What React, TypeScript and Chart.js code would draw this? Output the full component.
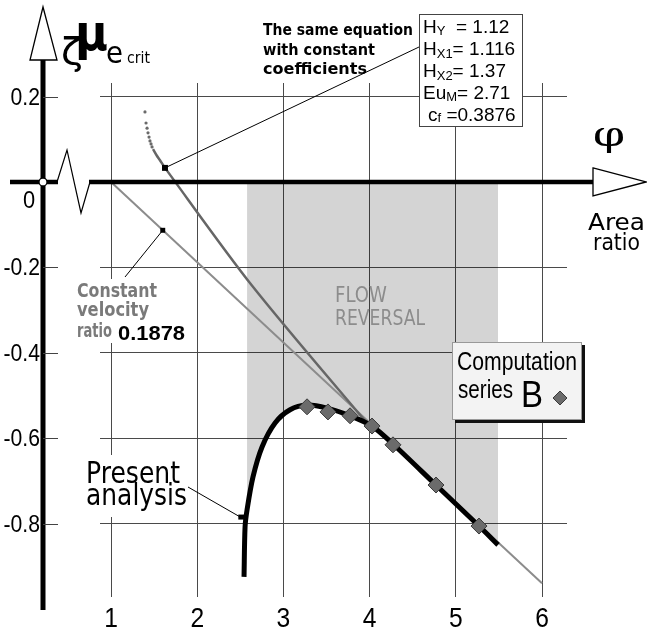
import { useEffect, useRef } from 'react';
import { Chart, registerables } from 'chart.js';

Chart.register(...registerables);

const W = 647;
const H = 630;

// Axis ranges (area ratio φ, critical coefficient ζμe crit)
const phiRange = [0.872, 6.29];
const muRange = [-0.971, 0.2316];

// Tick values and labels
const phiTicks = [1, 2, 3, 4, 5, 6];
const muTicks = [0.2, 0, -0.2, -0.4, -0.6, -0.8];
const muTickLabels = ['0.2', '0', '-0.2', '-0.4', '-0.6', '-0.8'];

// Present analysis (thick black curve)
const presentPhi = [2.543, 2.555, 2.578, 2.647, 2.752, 2.903, 3.077, 3.274, 3.506, 3.773, 4.028, 4.271, 4.77, 5.269, 5.49];
const presentMu = [-0.924, -0.807, -0.767, -0.69, -0.62, -0.564, -0.533, -0.522, -0.529, -0.547, -0.571, -0.613, -0.709, -0.805, -0.849];

// Computation series B (diamonds)
const seriesBPhi = [3.274, 3.517, 3.773, 4.028, 4.271, 4.77, 5.269];
const seriesBMu = [-0.526, -0.538, -0.547, -0.571, -0.615, -0.709, -0.805];

// Constant velocity ratio 0.1878 line
const constVelPhi = [1, 6];
const constVelMu = [0, -0.939];
const constVelMarkPhi = [1.6];
const constVelMarkMu = [-0.113];

// Same equation with constant coefficients: dotted start, then solid
const sameEqDotPhi = [1.394, 1.406, 1.418, 1.429, 1.441, 1.452, 1.464, 1.476];
const sameEqDotMu = [0.164, 0.138, 0.126, 0.115, 0.105, 0.096, 0.089, 0.082];
const sameEqPhi = [1.487, 1.53, 1.568, 1.626, 2.63, 4.005];
const sameEqMu = [0.077, 0.062, 0.051, 0.033, -0.241, -0.573];
const sameEqMarkPhi = [1.626];
const sameEqMarkMu = [0.033];

// Flow reversal band
const flowReversal = [2.57, 5.5];

// Leader anchor on the present-analysis curve
const presentMarkPhi = 2.5;
const presentMarkMu = -0.784;

const pts = (xs: number[], ys: number[]) => xs.map((x, i) => ({ x, y: ys[i] }));

type Align = 'left' | 'right' | 'center';
function fit(
  ctx: CanvasRenderingContext2D,
  s: string,
  x: number,
  y: number,
  font: string,
  color: string,
  opts: { w?: number; sx?: number; align?: Align } = {}
) {
  ctx.save();
  ctx.font = font;
  ctx.fillStyle = color;
  ctx.textBaseline = 'alphabetic';
  ctx.textAlign = 'left';
  const natural = ctx.measureText(s).width;
  const w = opts.w ?? natural * (opts.sx ?? 1);
  const align = opts.align ?? 'left';
  const left = align === 'left' ? x : align === 'right' ? x - w : x - w / 2;
  ctx.translate(left, y);
  ctx.scale(w / natural, 1);
  ctx.fillText(s, 0, 0);
  ctx.restore();
  return w;
}

function rich(
  ctx: CanvasRenderingContext2D,
  parts: [string, string, number][],
  x: number,
  y: number,
  sx: number
) {
  let cx = x;
  for (const [s, font, dy] of parts) {
    cx += fit(ctx, s, cx, y + dy, font, '#000', { sx });
  }
}

function line(ctx: CanvasRenderingContext2D, x1: number, y1: number, x2: number, y2: number) {
  ctx.beginPath();
  ctx.moveTo(x1, y1);
  ctx.lineTo(x2, y2);
  ctx.stroke();
}

function diamond(ctx: CanvasRenderingContext2D, x: number, y: number, r: number) {
  ctx.beginPath();
  ctx.moveTo(x - r, y);
  ctx.lineTo(x, y - r);
  ctx.lineTo(x + r, y);
  ctx.lineTo(x, y + r);
  ctx.closePath();
  ctx.fillStyle = '#6b6b6b';
  ctx.fill();
  ctx.strokeStyle = '#3a3a3a';
  ctx.lineWidth = 1;
  ctx.stroke();
}

const SANS = '"DejaVu Sans", sans-serif';
const HELV = '"Liberation Sans", Arial, sans-serif';

const decorations = {
  id: 'decorations',
  afterDraw(chart: any) {
    const ctx: CanvasRenderingContext2D = chart.ctx;
    const xs = chart.scales.x;
    const ys = chart.scales.y;
    const X = (v: number) => xs.getPixelForValue(v);
    const Y = (v: number) => ys.getPixelForValue(v);
    const y0 = Y(0);
    const axisX = 43;

    ctx.save();

    // white backing behind labels that sit on grid lines
    ctx.fillStyle = '#fff';
    ctx.fillRect(82, 455, 108, 62);
    ctx.fillRect(75, 279, 113, 64);

    // leader lines
    ctx.strokeStyle = '#000';
    ctx.lineWidth = 1;
    line(ctx, X(sameEqMarkPhi[0]), Y(sameEqMarkMu[0]), 419, 47);
    line(ctx, X(constVelMarkPhi[0]), Y(constVelMarkMu[0]), 125, 277);
    line(ctx, 188, 487, X(presentMarkPhi), Y(presentMarkMu));
    ctx.fillStyle = '#000';
    ctx.fillRect(X(presentMarkPhi) - 2, Y(presentMarkMu) - 2.5, 9, 5);

    // y axis shaft and ticks
    ctx.strokeStyle = '#000';
    ctx.lineWidth = 5;
    line(ctx, axisX, 58, axisX, 610);
    ctx.lineWidth = 1;
    ctx.strokeStyle = '#444';
    muTicks.forEach((v) => {
      if (v !== 0) line(ctx, axisX, Math.round(Y(v)) + 0.5, 58, Math.round(Y(v)) + 0.5);
    });

    // x axis shaft with break
    ctx.strokeStyle = '#000';
    ctx.lineWidth = 4.5;
    line(ctx, 10, y0, 58, y0);
    line(ctx, 89, y0, 595, y0);
    ctx.lineWidth = 1.2;
    ctx.beginPath();
    ctx.moveTo(57, y0);
    ctx.lineTo(67, y0 - 32);
    ctx.lineTo(81, y0 + 31);
    ctx.lineTo(90, y0);
    ctx.stroke();

    // arrow heads
    ctx.lineWidth = 1.3;
    ctx.fillStyle = '#fff';
    ctx.beginPath();
    ctx.moveTo(axisX, 7);
    ctx.lineTo(30, 60);
    ctx.lineTo(57, 60);
    ctx.closePath();
    ctx.fill();
    ctx.stroke();
    ctx.beginPath();
    ctx.moveTo(593, y0 - 14);
    ctx.lineTo(646, y0);
    ctx.lineTo(593, y0 + 14);
    ctx.closePath();
    ctx.fill();
    ctx.stroke();

    // origin ring
    ctx.beginPath();
    ctx.arc(axisX, y0, 4, 0, Math.PI * 2);
    ctx.fill();
    ctx.stroke();

    // tick labels
    muTicks.forEach((v, i) => {
      if (v === 0) {
        fit(ctx, muTickLabels[i], 29, y0 + 26, `23px ${HELV}`, '#000', { align: 'center', sx: 0.95 });
      } else {
        fit(ctx, muTickLabels[i], 40, Y(v) + 8, `23px ${HELV}`, '#000', { align: 'right', sx: 0.92 });
      }
    });
    phiTicks.forEach((v) => {
      fit(ctx, String(v), X(v), 627, `28px ${HELV}`, '#000', { align: 'center', sx: 0.88 });
    });

    // axis titles
    fit(ctx, 'ζ', 61, 64, `38px ${SANS}`, '#000', { w: 22 });
    fit(ctx, 'μ', 75, 50, `bold 50px ${SANS}`, '#000', { w: 33 });
    fit(ctx, 'e', 106, 63, `30px ${SANS}`, '#000', { w: 17 });
    fit(ctx, 'crit', 127, 63, `16px ${SANS}`, '#000', { w: 23 });
    fit(ctx, 'φ', 593, 146, `34px "DejaVu Serif", serif`, '#000', { w: 32 });
    fit(ctx, 'Area', 588, 230, `23px ${SANS}`, '#000', { w: 57 });
    fit(ctx, 'ratio', 593, 250, `23px ${SANS}`, '#000', { w: 47 });

    // flow reversal caption
    fit(ctx, 'FLOW', 335, 302, `21px ${SANS}`, '#8c8c8c', { w: 52 });
    fit(ctx, 'REVERSAL', 335, 325, `21px ${SANS}`, '#8c8c8c', { w: 90 });

    // present analysis caption
    fit(ctx, 'Present', 86, 483, `30px ${SANS}`, '#000', { w: 94 });
    fit(ctx, 'analysis', 86, 505, `30px ${SANS}`, '#000', { w: 101 });

    // constant velocity caption
    fit(ctx, 'Constant', 77, 297, `bold 19px ${SANS}`, '#7a7a7a', { w: 80 });
    fit(ctx, 'velocity', 77, 316, `bold 19px ${SANS}`, '#7a7a7a', { w: 72 });
    fit(ctx, 'ratio', 77, 337, `bold 19px ${SANS}`, '#7a7a7a', { w: 35 });
    fit(ctx, '0.1878', 118, 340, `bold 21px ${HELV}`, '#000', { w: 67 });

    // same equation caption
    fit(ctx, 'The same equation', 263, 35, `bold 16px ${SANS}`, '#000', { w: 150 });
    fit(ctx, 'with constant', 263, 55, `bold 16px ${SANS}`, '#000', { w: 112 });
    fit(ctx, 'coefficients', 263, 74, `bold 16px ${SANS}`, '#000', { w: 104 });

    // coefficient box
    ctx.fillStyle = '#fff';
    ctx.fillRect(419, 14, 103, 112);
    ctx.strokeStyle = '#444';
    ctx.lineWidth = 1;
    ctx.strokeRect(419.5, 14.5, 103, 112);
    const big = `19px ${HELV}`;
    const sub = `13px ${HELV}`;
    rich(ctx, [['H', big, 0], ['Y', sub, 2], ['  = 1.12', big, 0]], 423, 33, 1);
    rich(ctx, [['H', big, 0], ['X1', sub, 3], ['= 1.116', big, 0]], 423, 55, 1);
    rich(ctx, [['H', big, 0], ['X2', sub, 3], ['= 1.37', big, 0]], 423, 77, 1);
    rich(ctx, [['Eu', big, 0], ['M', sub, 2], ['= 2.71', big, 0]], 423, 99, 1);
    rich(ctx, [['c', big, 0], ['f', sub, 1], [' =0.3876', big, 0]], 428, 121, 1);

    // series legend box
    ctx.fillStyle = '#111';
    ctx.fillRect(455, 345, 130, 78);
    ctx.fillStyle = '#f3f3f3';
    ctx.fillRect(452, 342, 130, 78);
    ctx.strokeStyle = '#999';
    ctx.strokeRect(452.5, 342.5, 129, 77);
    fit(ctx, 'Computation', 457, 370, `25px ${HELV}`, '#000', { w: 120 });
    fit(ctx, 'series', 458, 398, `25px ${HELV}`, '#000', { w: 55 });
    fit(ctx, 'B', 521, 407, `36px ${HELV}`, '#000', { w: 22 });
    diamond(ctx, 560, 398, 7);

    ctx.restore();
  },
};

export default function App() {
  const ref = useRef<HTMLCanvasElement>(null);

  useEffect(() => {
    document.body.style.margin = '0';
    const presentPts = pts(presentPhi, presentMu);
    const shadePts = presentPts.filter((p) => p.x >= flowReversal[0] && p.x <= flowReversal[1]);

    const chart = new Chart(ref.current!, {
      type: 'scatter',
      data: {
        datasets: [
          {
            label: 'flow reversal',
            data: shadePts,
            showLine: true,
            borderWidth: 0,
            pointRadius: 0,
            tension: 0.3,
            backgroundColor: 'rgba(0,0,0,0.17)',
            fill: { value: 0 },
            order: 10,
          },
          {
            label: 'constant velocity ratio',
            data: pts(constVelPhi, constVelMu),
            showLine: true,
            borderColor: '#8c8c8c',
            borderWidth: 2,
            pointRadius: 0,
            order: 6,
          },
          {
            label: 'same equation dots',
            data: pts(sameEqDotPhi, sameEqDotMu),
            showLine: false,
            pointRadius: 1.6,
            pointBackgroundColor: '#6a6a6a',
            pointBorderWidth: 0,
            order: 5,
          },
          {
            label: 'same equation',
            data: pts(sameEqPhi, sameEqMu),
            showLine: true,
            borderColor: '#666',
            borderWidth: 2.5,
            tension: 0.3,
            pointRadius: 0,
            order: 5,
          },
          {
            label: 'present analysis',
            data: presentPts,
            showLine: true,
            borderColor: '#000',
            borderWidth: 5,
            tension: 0.3,
            pointRadius: 0,
            order: 3,
          },
          {
            label: 'Computation series B',
            data: pts(seriesBPhi, seriesBMu),
            showLine: false,
            pointStyle: 'rectRot',
            pointRadius: 8,
            pointBackgroundColor: '#6b6b6b',
            pointBorderColor: '#3a3a3a',
            pointBorderWidth: 1,
            order: 1,
          },
          {
            label: 'markers',
            data: pts(sameEqMarkPhi, sameEqMarkMu),
            showLine: false,
            pointStyle: 'rect',
            pointRadius: 4.2,
            pointBackgroundColor: '#000',
            pointBorderWidth: 0,
            order: 0,
          },
          {
            label: 'markers small',
            data: pts(constVelMarkPhi, constVelMarkMu),
            showLine: false,
            pointStyle: 'rect',
            pointRadius: 3.5,
            pointBackgroundColor: '#000',
            pointBorderWidth: 0,
            order: 0,
          },
        ],
      },
      options: {
        responsive: false,
        maintainAspectRatio: false,
        animation: false,
        devicePixelRatio: 1,
        layout: { padding: { left: 100, right: 80, top: 83, bottom: 33 } },
        plugins: {
          legend: { display: false },
          tooltip: { enabled: false },
        },
        scales: {
          x: {
            type: 'linear',
            min: phiRange[0],
            max: phiRange[1],
            afterBuildTicks: (s: any) => {
              s.ticks = phiTicks.map((value) => ({ value }));
            },
            afterFit: (s: any) => {
              s.height = 0;
            },
            ticks: { display: false },
            grid: { color: '#4a4a4a', lineWidth: 1, drawTicks: false },
            border: { display: false },
          },
          y: {
            type: 'linear',
            min: muRange[0],
            max: muRange[1],
            afterBuildTicks: (s: any) => {
              s.ticks = muTicks.map((value) => ({ value }));
            },
            afterFit: (s: any) => {
              s.width = 0;
            },
            ticks: { display: false },
            grid: { color: '#4a4a4a', lineWidth: 1, drawTicks: false },
            border: { display: false },
          },
        },
      },
      plugins: [decorations],
    });
    return () => chart.destroy();
  }, []);

  return (
    <div style={{ position: 'absolute', left: 0, top: 0, width: W, height: H, background: '#fff' }}>
      <canvas ref={ref} width={W} height={H} style={{ display: 'block', width: W, height: H }} />
    </div>
  );
}
